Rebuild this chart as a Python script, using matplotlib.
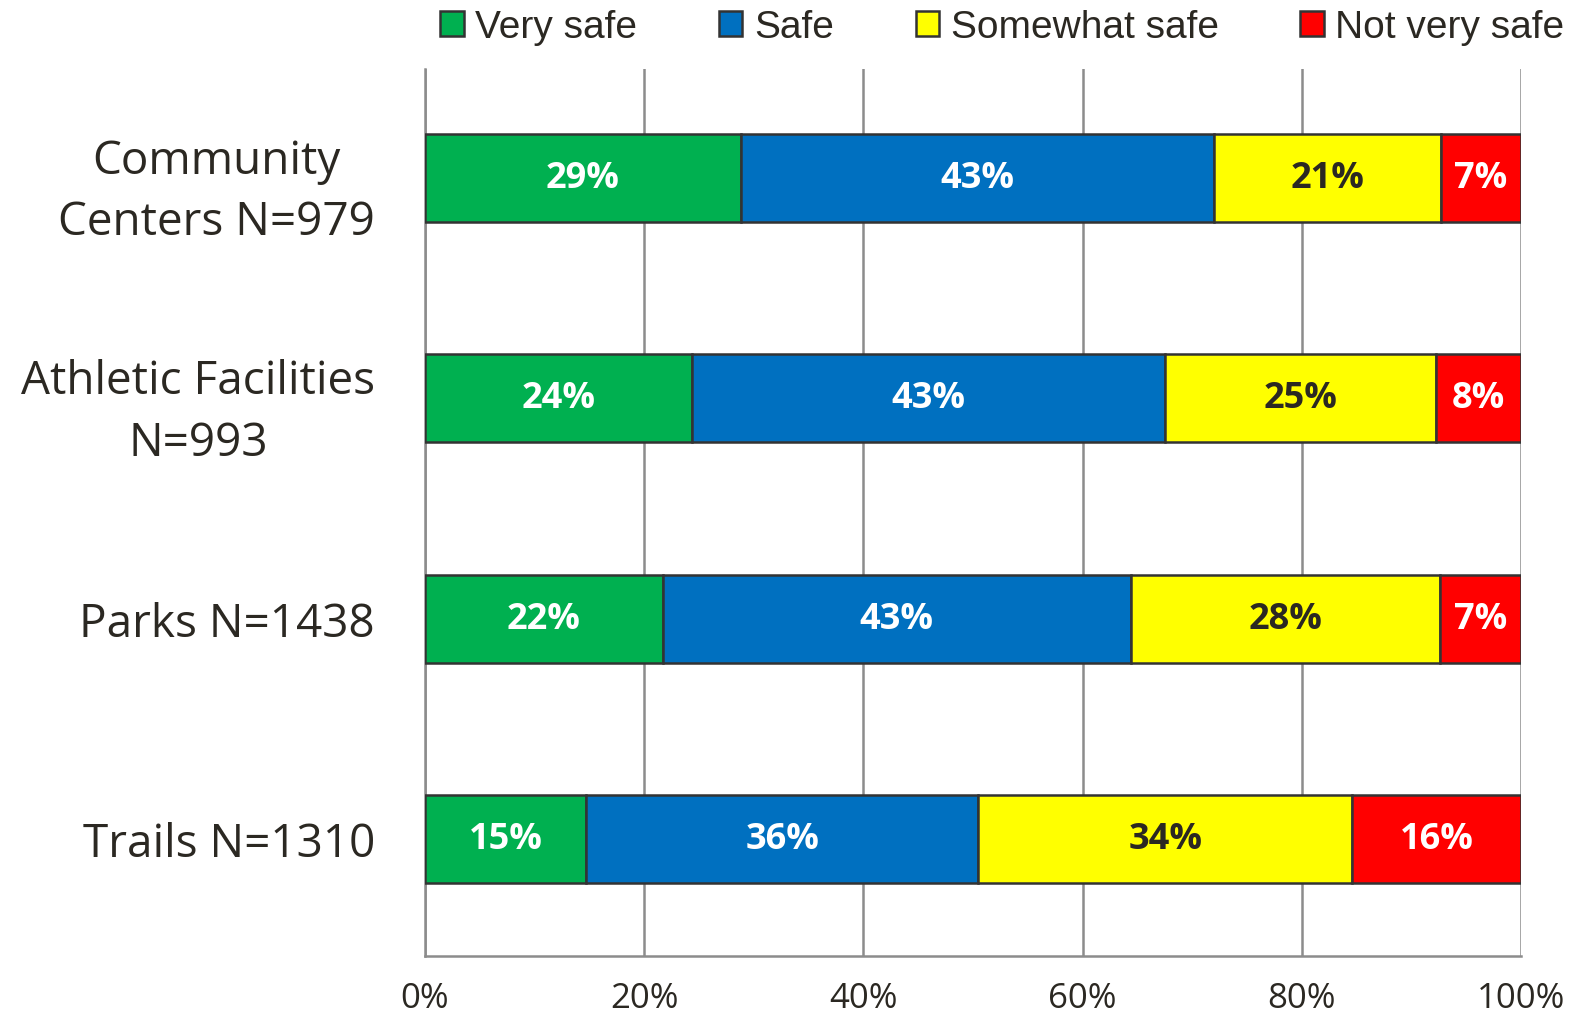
import numpy as np
import matplotlib.pyplot as plt

# categories listed top to bottom
categories = ["Community\nCenters N=979", "Athletic Facilities\nN=993",
              "Parks N=1438", "Trails N=1310"]
series = ["Very safe", "Safe", "Somewhat safe", "Not very safe"]

# segment widths (%)
very_safe = [28.8, 24.4, 21.7, 14.7]
safe = [43.2, 43.1, 42.7, 35.8]
somewhat_safe = [20.7, 24.7, 28.2, 34.1]
not_very_safe = [7.3, 7.8, 7.4, 15.4]

# printed labels
very_safe_lbl = [29, 24, 22, 15]
safe_lbl = [43, 43, 43, 36]
somewhat_safe_lbl = [21, 25, 28, 34]
not_very_safe_lbl = [7, 8, 7, 16]

xticks = [0, 20, 40, 60, 80, 100]

colors = ["#00B050", "#0070C0", "#FFFF00", "#FF0000"]
text_colors = ["white", "white", "#2b2822", "white"]
dark = "#2b2822"

values = [very_safe, safe, somewhat_safe, not_very_safe]
labels = [very_safe_lbl, safe_lbl, somewhat_safe_lbl, not_very_safe_lbl]

fig = plt.figure(figsize=(15.81, 10.20), dpi=100)
ax = fig.add_axes([425/1581, 1 - 957/1020, 1096/1581, 887/1020])

y = np.arange(len(categories))[::-1]
left = np.zeros(len(categories))
handles = []
for vals, lbls, col, tcol, name in zip(values, labels, colors, text_colors, series):
    bars = ax.barh(y, vals, left=left, height=0.4, color=col,
                   edgecolor="#333333", linewidth=1.8, label=name, zorder=3)
    handles.append(bars)
    ax.bar_label(bars, labels=[f"{v}%" for v in lbls], label_type="center",
                 color=tcol, fontsize=26, fontweight="bold", family="Open Sans")
    left += np.array(vals)

ax.set_xlim(0, 100)
ax.set_ylim(-0.532, 3.495)
ax.set_xticks(xticks)
ax.set_xticklabels([f"{t}%" for t in xticks], fontsize=25, color=dark,
                   family="Open Sans")
ax.set_yticks(y)
ax.set_yticklabels(categories, fontsize=33, color=dark, family="Open Sans",
                   multialignment="center", linespacing=1.45)
ax.tick_params(axis="both", length=0)
ax.tick_params(axis="x", pad=18)
ax.tick_params(axis="y", pad=36)

ax.grid(axis="x", color="#8c8c8c", linewidth=1.8, zorder=0)
for s in ["top", "right"]:
    ax.spines[s].set_visible(False)
for s in ["left", "bottom"]:
    ax.spines[s].set_color("#8c8c8c")
    ax.spines[s].set_linewidth(1.8)

leg = fig.legend(handles=handles, labels=series, loc="center",
                 bbox_to_anchor=(0.634, 1 - 28/1020), ncol=4, frameon=False,
                 handlelength=0.6, handleheight=0.6,
                 handletextpad=0.3, columnspacing=2.1,
                 prop={"family": "Liberation Sans", "size": 28})
for t in leg.get_texts():
    t.set_color(dark)

fig.savefig("out.png", dpi=100, facecolor="white")
